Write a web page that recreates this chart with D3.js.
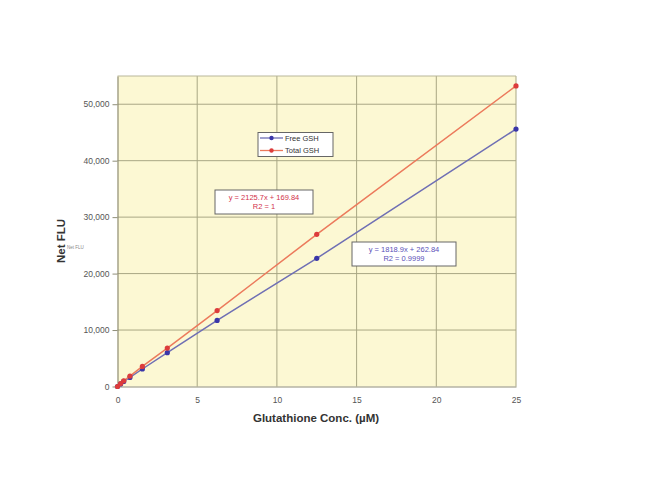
<!DOCTYPE html>
<html><head><meta charset="utf-8">
<script src="https://cdn.jsdelivr.net/npm/d3@7"></script>
<style>body{margin:0;background:#fff;} svg{display:block;}</style>
</head><body>
<svg id="c" width="650" height="501"></svg>
<script>
const conc = [0, 0.195, 0.39, 0.78, 1.56, 3.125, 6.25, 12.5, 25];
const freeGSH = [0, 450, 900, 1600, 3100, 6000, 11700, 22700, 45600];
const totalGSH = [0, 520, 1000, 1850, 3550, 6800, 13450, 26950, 53250];
const xTicks = [0, 5, 10, 15, 20, 25];
const yTicks = [0, 10000, 20000, 30000, 40000, 50000];
const seriesNames = ["Free GSH", "Total GSH"];
const eqTotal = ["y = 2125.7x + 169.84", "R2 = 1"];
const eqFree = ["y = 1818.9x + 262.84", "R2 = 0.9999"];

const svg = d3.select("#c");
const L = 117.5, R = 516, T = 76, B = 386.5;
const x = d3.scaleLinear().domain([0, 25]).range([L, R]);
const y = d3.scaleLinear().domain([0, 55000]).range([B, T]);
const font = "'Liberation Sans', Arial, sans-serif";

svg.append("rect").attr("x", L).attr("y", T).attr("width", R - L).attr("height", B - T)
  .attr("fill", "#fcf8d3");

// grid
svg.append("g").selectAll("line").data(yTicks.filter(d => d > 0)).join("line")
  .attr("x1", L).attr("x2", R).attr("y1", d => y(d)).attr("y2", d => y(d))
  .attr("stroke", "#a9a784").attr("stroke-width", 1);
svg.append("g").selectAll("line").data(xTicks.filter(d => d > 0)).join("line")
  .attr("x1", d => x(d)).attr("x2", d => x(d)).attr("y1", T).attr("y2", B)
  .attr("stroke", "#a9a784").attr("stroke-width", 1);
svg.append("line").attr("x1", L).attr("x2", R).attr("y1", T).attr("y2", T)
  .attr("stroke", "#b8b69a").attr("stroke-width", 1);

// axes
const ya = svg.append("g").attr("transform", `translate(${L},0)`)
  .call(d3.axisLeft(y).tickValues(yTicks).tickSize(5).tickSizeOuter(0).tickPadding(3).tickFormat(d3.format(",")));
const xa = svg.append("g").attr("transform", `translate(0,${B})`)
  .call(d3.axisBottom(x).tickValues(xTicks).tickSize(0).tickSizeOuter(0).tickPadding(10).tickFormat(d3.format("d")));
[ya, xa].forEach(a => {
  a.select(".domain").attr("stroke", "#8f8e78").attr("stroke-width", 1.2);
  a.selectAll(".tick line").attr("stroke", "#8f8e78");
  a.selectAll("text").attr("fill", "#555").attr("font-size", 8.5).attr("font-family", font);
});

// lines
const line = d3.line().x((d, i) => x(conc[i])).y(d => y(d));
const series = [
  {vals: freeGSH, line: "#6f6fb4", mark: "#3a36a8"},
  {vals: totalGSH, line: "#ec7a5c", mark: "#dc3c3c"}
];
series.forEach(s => {
  svg.append("path").datum(s.vals).attr("d", line).attr("fill", "none")
    .attr("stroke", s.line).attr("stroke-width", 1.5);
  svg.append("g").selectAll("circle").data(s.vals).join("circle")
    .attr("cx", (d, i) => x(conc[i])).attr("cy", d => y(d)).attr("r", 2.6)
    .attr("fill", s.mark);
});

// legend
const lg = svg.append("g");
lg.append("rect").attr("x", 258).attr("y", 132.5).attr("width", 75).attr("height", 24)
  .attr("fill", "#fff").attr("stroke", "#666").attr("stroke-width", 1);
seriesNames.forEach((n, i) => {
  const yy = 138 + i * 12.5;
  lg.append("line").attr("x1", 260).attr("x2", 283).attr("y1", yy).attr("y2", yy)
    .attr("stroke", series[i].line).attr("stroke-width", 1.3);
  lg.append("circle").attr("cx", 271.5).attr("cy", yy).attr("r", 2.2).attr("fill", series[i].mark);
  lg.append("text").attr("x", 285).attr("y", yy + 2.7).text(n)
    .attr("font-size", 7.5).attr("font-family", font).attr("fill", "#333");
});

// equation boxes
function eqBox(x0, y0, w, h, lines, color) {
  const g = svg.append("g");
  g.append("rect").attr("x", x0).attr("y", y0).attr("width", w).attr("height", h)
    .attr("fill", "#fff").attr("stroke", "#666").attr("stroke-width", 1);
  lines.forEach((t, i) => g.append("text").attr("x", x0 + w / 2).attr("y", y0 + 9.5 + i * 9.5)
    .attr("text-anchor", "middle").text(t).attr("font-size", 7.5)
    .attr("font-family", font).attr("fill", color));
}
eqBox(215, 190, 98, 24, eqTotal, "#d2324a");
eqBox(352, 242, 104, 24, eqFree, "#5a50b8");

// titles
svg.append("text").attr("transform", "translate(65,241) rotate(-90)")
  .attr("text-anchor", "middle").text("Net FLU").attr("font-size", 11.5)
  .attr("font-weight", "bold").attr("font-family", font).attr("fill", "#333");
svg.append("text").attr("x", 67).attr("y", 249).text("Net FLU")
  .attr("font-size", 4.5).attr("font-family", font).attr("fill", "#888");
svg.append("text").attr("x", 316).attr("y", 422).attr("text-anchor", "middle")
  .text("Glutathione Conc. (µM)").attr("font-size", 11.5).attr("font-weight", "bold")
  .attr("font-family", font).attr("fill", "#333");
</script>
</body></html>
